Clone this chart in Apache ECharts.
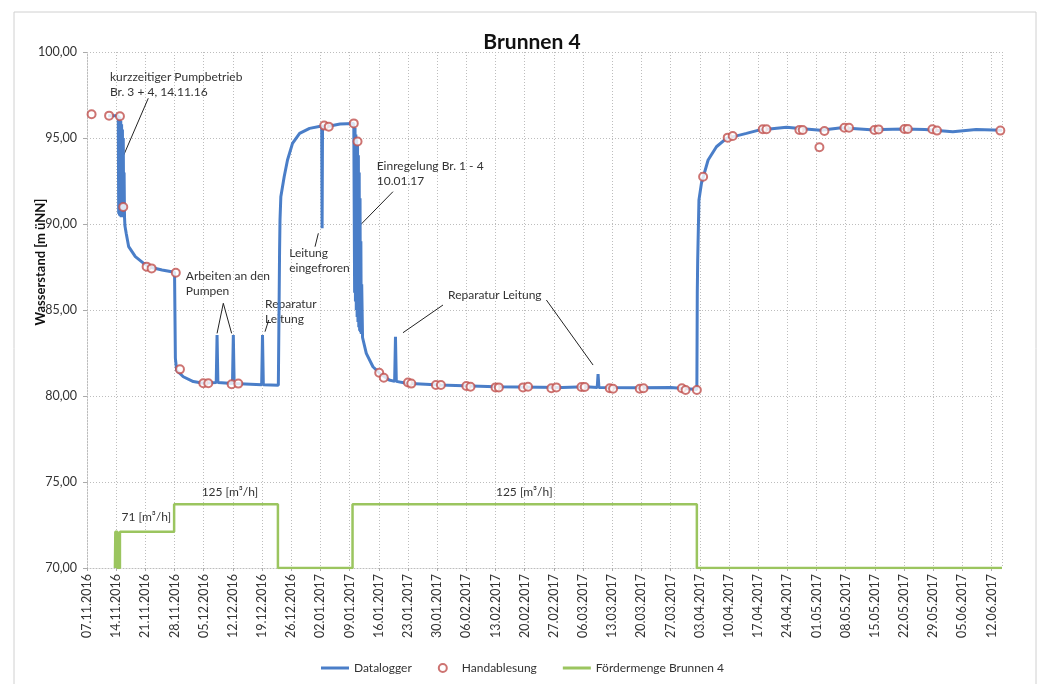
<!DOCTYPE html>
<html>
<head>
<meta charset="utf-8">
<script src="https://cdn.jsdelivr.net/npm/echarts@6/dist/echarts.min.js"></script>
<style>
  html, body { margin: 0; padding: 0; background: #fff; }
  #chart { width: 1038px; height: 684px; }
</style>
</head>
<body>
<div id="chart"></div>
<script>
// day 0 = 07.11.2016
const startDate = Date.UTC(2016, 10, 7);

// Datalogger [day, m üNN]
const datalogger = [
  [5.1, 96.3], [7.5, 96.3],
  [7.6, 90.6], [7.7, 96.25], [7.8, 90.5], [7.9, 96.2], [8.0, 90.45], [8.1, 96.0], [8.2, 90.4], [8.3, 95.8],
  [8.4, 90.4], [8.5, 95.5], [8.6, 90.45], [8.7, 95.0], [8.8, 90.4], [8.9, 93.0], [9.0, 90.4],
  [9.1, 89.9], [9.4, 89.46], [10.0, 88.68], [11.6, 88.1], [13.6, 87.71], [15.0, 87.5], [18.0, 87.33], [21.0, 87.2],
  [21.1, 87.1], [21.2, 82.2], [21.5, 81.5], [23.1, 81.12], [25.5, 80.84], [27.9, 80.74],
  [31.0, 80.78], [31.2, 83.55], [31.4, 80.78],
  [34.9, 80.72], [35.1, 83.55], [35.3, 80.72],
  [41.9, 80.66], [42.1, 83.55], [42.3, 80.66],
  [45.9, 80.62], [46.1, 80.6], [46.2, 88.5], [46.3, 90.23], [46.5, 91.59], [47.3, 92.75], [48.1, 93.72],
  [49.3, 94.69], [51.0, 95.27], [53.4, 95.56], [56.3, 95.7],
  [56.4, 89.75], [56.5, 95.7], [58.0, 95.68], [60.7, 95.81], [64.0, 95.85],
  [64.1, 95.8], [64.2, 86.0], [64.3, 95.6], [64.4, 85.5], [64.5, 95.2], [64.6, 85.0], [64.7, 94.9], [64.8, 84.6],
  [64.9, 94.6], [65.0, 84.3], [65.1, 94.0], [65.2, 84.0], [65.3, 93.0], [65.4, 83.8], [65.5, 91.5], [65.6, 83.7],
  [65.7, 89.0], [65.8, 83.6], [65.9, 86.5], [66.1, 83.4],
  [67.0, 82.48], [68.6, 81.7], [70.2, 81.32], [72.5, 80.93],
  [73.8, 80.85], [74.0, 83.45], [74.2, 80.85],
  [76.6, 80.74], [84.6, 80.64], [98.0, 80.54], [114.0, 80.5], [119.6, 80.54],
  [122.4, 80.5], [122.6, 81.28], [122.8, 80.5],
  [132.0, 80.48], [140.0, 80.5], [144.0, 80.42], [146.3, 80.38],
  [146.4, 86.0], [146.5, 87.9], [146.8, 91.4], [147.4, 92.37], [149.0, 93.72], [151.0, 94.49], [153.4, 94.98],
  [158.2, 95.27], [161.4, 95.47], [167.8, 95.62], [171.0, 95.55], [176.0, 95.45], [181.0, 95.6], [188.0, 95.48],
  [196.0, 95.53], [201.0, 95.5], [207.7, 95.37], [213.3, 95.5], [219.5, 95.45]
];

// Handablesung [day, m üNN]
const handablesung = [
  [1.1, 96.38], [5.3, 96.3], [7.9, 96.26], [8.7, 90.99], [14.3, 87.52], [15.5, 87.42], [21.3, 87.17], [22.3, 81.55],
  [27.9, 80.74], [29.1, 80.74], [34.7, 80.68], [36.3, 80.72], [56.9, 95.72], [58.0, 95.66], [64.0, 95.85], [64.9, 94.8],
  [70.1, 81.35], [71.2, 81.06], [77.0, 80.78], [77.8, 80.72], [83.7, 80.64], [84.9, 80.64], [91.0, 80.58], [92.0, 80.54],
  [98.0, 80.5], [98.8, 80.5], [104.6, 80.5], [105.8, 80.54], [111.4, 80.45], [112.6, 80.5], [118.6, 80.52], [119.4, 80.52],
  [125.4, 80.45], [126.2, 80.42], [132.6, 80.42], [133.5, 80.45], [142.7, 80.45], [143.6, 80.35], [146.3, 80.35],
  [147.8, 92.75], [153.7, 95.02], [154.9, 95.12], [162.1, 95.51], [163.0, 95.51], [170.9, 95.47], [171.7, 95.47],
  [175.7, 94.46], [176.9, 95.41], [181.7, 95.6], [182.8, 95.6], [188.9, 95.47], [189.9, 95.5], [196.1, 95.52],
  [196.9, 95.52], [202.8, 95.51], [203.9, 95.43], [219.1, 95.43]
];

// Fördermenge Brunnen 4 [day, m³/h], value holds from that day on
const foerdermenge = [
  [6.7, 0], [6.8, 71], [7.3, 0], [7.9, 71], [20.9, 125], [45.8, 0], [63.7, 125], [146.3, 0], [219.5, 0]
];

// annotations: text anchor (left/top) and leader lines, in data coords
const notes = [
  { text: "kurzzeitiger Pumpbetrieb\nBr. 3 + 4, 14.11.16", at: [5.5, 99.0],
    lines: [[[14.7, 97.31], [8.3, 93.72]]] },
  { text: "Arbeiten an den\nPumpen", at: [23.7, 87.4],
    lines: [[[32.7, 85.39], [31.2, 83.64]], [[32.7, 85.39], [34.7, 83.64]]] },
  { text: "Reparatur\nLeitung", at: [42.7, 85.75],
    lines: [[[43.6, 84.42], [42.7, 83.74]]] },
  { text: "Leitung\neingefroren", at: [48.5, 88.72],
    lines: [[[55.5, 89.46], [54.7, 88.68]]] },
  { text: "Einregelung Br. 1 - 4\n10.01.17", at: [69.5, 93.8],
    lines: [[[73.4, 91.88], [64.8, 89.75]]] },
  { text: "Reparatur Leitung", at: [86.6, 86.3],
    lines: [[[85.4, 85.29], [75.8, 83.68]], [[110.2, 85.58], [121.4, 81.8]]] },
  { text: "71 [m³/h]", at: [8.3, 73.4], lines: [] },
  { text: "125 [m³/h]", at: [27.5, 74.85], lines: [] },
  { text: "125 [m³/h]", at: [98.1, 74.85], lines: [] }
];

function pad(n) { return n < 10 ? "0" + n : "" + n; }
function dayLabel(d) {
  const dt = new Date(startDate + d * 86400000);
  return pad(dt.getUTCDate()) + "." + pad(dt.getUTCMonth() + 1) + "." + dt.getUTCFullYear();
}

const font = "Lato, 'Liberation Sans', sans-serif";
const dotted = { color: "#bdbdbd", type: [1, 2], width: 1 };
const barIcon = "path://M0,0L28,0L28,3L0,3Z";

const chart = echarts.init(document.getElementById("chart"));
chart.setOption({
  animation: false,
  textStyle: { fontFamily: font },
  title: {
    text: "Brunnen 4", left: 527, top: 27, textAlign: "center",
    textStyle: { fontSize: 21, fontWeight: "bold", color: "#111", fontFamily: font }
  },
  grid: { left: 87, right: 36, top: 52, bottom: 116 },
  legend: {
    left: 316, top: 657, itemWidth: 28, itemHeight: 8, itemGap: 26,
    textStyle: { fontSize: 12, color: "#333" },
    data: [
      { name: "Datalogger", icon: barIcon },
      { name: "Handablesung", icon: "emptyCircle" },
      { name: "Fördermenge Brunnen 4", icon: barIcon }
    ]
  },
  xAxis: {
    type: "value", min: 0, max: 219.5, interval: 7,
    axisLine: { show: true, lineStyle: dotted },
    axisTick: { show: true, length: 3, lineStyle: { color: "#aaa" } },
    splitLine: { show: true, lineStyle: dotted },
    axisLabel: {
      rotate: 90, fontSize: 12.5, color: "#333", margin: 6, showMaxLabel: false,
      formatter: (v) => (v % 7 === 0 ? dayLabel(v) : "")
    }
  },
  yAxis: [
    {
      type: "value", min: 70, max: 100, interval: 5,
      axisLine: { show: true, lineStyle: dotted },
      axisTick: { show: true, length: 4, lineStyle: { color: "#aaa" } },
      splitLine: { show: true, lineStyle: dotted },
      axisLabel: {
        fontSize: 12.5, color: "#333", margin: 10,
        formatter: (v) => v.toFixed(2).replace(".", ",")
      }
    },
    { type: "value", min: 0, max: 1013, show: false, splitLine: { show: false } }
  ],
  series: [
    {
      name: "Datalogger", type: "line", data: datalogger, symbol: "none",
      lineStyle: { color: "#4a7ec8", width: 3 }, itemStyle: { color: "#4a7ec8" }, z: 3
    },
    {
      name: "Handablesung", type: "scatter", data: handablesung, symbol: "emptyCircle", symbolSize: 8,
      itemStyle: { color: "#c0504d", borderColor: "#c0504d", borderWidth: 1.5 }, z: 4
    },
    {
      name: "Fördermenge Brunnen 4", type: "line", yAxisIndex: 1, step: "end", data: foerdermenge,
      symbol: "none", lineStyle: { color: "#9bc55f", width: 2.5 }, itemStyle: { color: "#9bc55f" }, z: 2
    }
  ]
});

// annotations + y axis title as graphic elements
const graphics = [
  {
    type: "rect", shape: { x: 14, y: 12, width: 1022, height: 690 }, silent: true,
    style: { fill: "none", stroke: "#d0d0d0", lineWidth: 1 }
  },
  {
    type: "text", x: 41, y: 262, rotation: Math.PI / 2,
    style: { text: "Wasserstand [m üNN]", font: "bold 13px " + font, fill: "#111", textAlign: "center", textVerticalAlign: "middle" }
  }
];
notes.forEach((n) => {
  const p = chart.convertToPixel({ gridIndex: 0 }, n.at);
  graphics.push({
    type: "text", x: p[0], y: p[1],
    style: { text: n.text, font: "12px " + font, fill: "#333", lineHeight: 15, textVerticalAlign: "top" }
  });
  n.lines.forEach((l) => {
    const a = chart.convertToPixel({ gridIndex: 0 }, l[0]);
    const b = chart.convertToPixel({ gridIndex: 0 }, l[1]);
    graphics.push({
      type: "line", shape: { x1: a[0], y1: a[1], x2: b[0], y2: b[1] },
      style: { stroke: "#222", lineWidth: 1 }
    });
  });
});
chart.setOption({ graphic: graphics });
</script>
</body>
</html>
